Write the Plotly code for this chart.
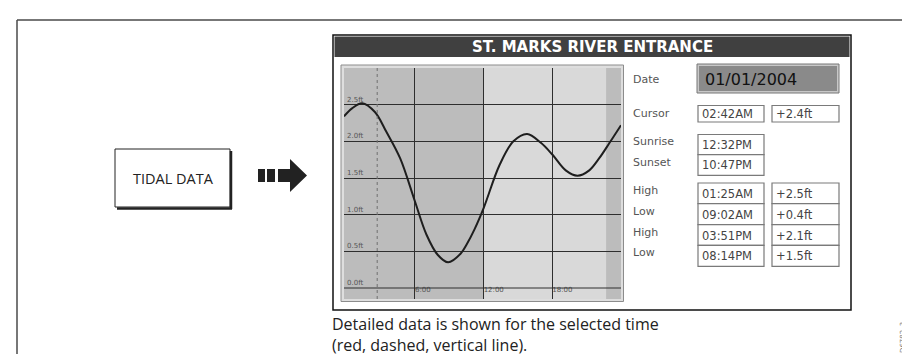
import plotly.graph_objects as go

W, H = 910, 354

# ---------------- data ----------------
title = "ST. MARKS RIVER ENTRANCE"
tide_hours = [-0.2, 0.5, 1.4, 2.5, 3.5, 4.7, 6.0, 7.0, 8.0, 8.9, 10.0, 10.5, 11.2, 12.0,
              13.4, 14.6, 15.8, 17.0, 18.0, 19.2, 20.2, 21.2, 22.1, 23.0, 24.0]
tide_ft = [2.34, 2.45, 2.52, 2.40, 2.13, 1.77, 1.18, 0.73, 0.45, 0.35, 0.47, 0.59, 0.80, 1.09,
           1.68, 2.00, 2.10, 1.98, 1.82, 1.60, 1.53, 1.60, 1.77, 1.98, 2.22]
x_tick_vals = [6, 12, 18]
x_tick_text = ["6:00", "12:00", "18:00"]
y_tick_vals = [0.0, 0.5, 1.0, 1.5, 2.0, 2.5]
y_tick_text = ["0.0ft", "0.5ft", "1.0ft", "1.5ft", "2.0ft", "2.5ft"]
cursor_hour = 2.7          # 02:42AM
light_start_hour = 12.05   # shaded band boundaries as drawn
light_end_hour = 22.7
date_text = "01/01/2004"
cursor_row = ("Cursor", "02:42AM", "+2.4ft")
sun_rows = [("Sunrise", "12:32PM"), ("Sunset", "10:47PM")]
tide_rows = [("High", "01:25AM", "+2.5ft"), ("Low", "09:02AM", "+0.4ft"),
             ("High", "03:51PM", "+2.1ft"), ("Low", "08:14PM", "+1.5ft")]
button_text = "TIDAL DATA"
caption_lines = ["Detailed data is shown for the selected time",
                 "(red, dashed, vertical line)."]
figure_code = "D6782_3"

X_MIN, X_MAX = -0.2, 24.0
Y_MIN, Y_MAX = -0.15, 3.0


def px(x):
    return x / W


def py(y):
    return 1 - y / H


fig = go.Figure()

fig.add_trace(go.Scatter(x=tide_hours, y=tide_ft, mode="lines",
                         line=dict(color="#1e1e1e", width=2, shape="spline", smoothing=1.0),
                         hoverinfo="skip", showlegend=False, cliponaxis=True))

shapes = []
ann = []

# outer page lines
shapes.append(dict(type="line", xref="paper", yref="paper", x0=px(9), x1=px(910), y0=py(12), y1=py(12),
                   line=dict(color="#4a4a4a", width=1.5)))
shapes.append(dict(type="line", xref="paper", yref="paper", x0=px(9), x1=px(9), y0=py(12), y1=py(354),
                   line=dict(color="#4a4a4a", width=1.5)))

# TIDAL DATA button with shadow
shapes.append(dict(type="rect", xref="paper", yref="paper", x0=px(107), x1=px(222), y0=py(199), y1=py(141),
                   line=dict(color="#222", width=1), fillcolor="white"))
shapes.append(dict(type="line", xref="paper", yref="paper", x0=px(223), x1=px(223), y0=py(143), y1=py(201),
                   line=dict(color="#222", width=2.5)))
shapes.append(dict(type="line", xref="paper", yref="paper", x0=px(109), x1=px(224), y0=py(200.5), y1=py(200.5),
                   line=dict(color="#222", width=2.5)))
ann.append(dict(text=button_text, xref="paper", yref="paper", x=px(165), y=py(170), showarrow=False,
                font=dict(family="Open Sans", size=14.5, color="#222"), xanchor="center", yanchor="middle"))

# arrow
shapes.append(dict(type="rect", xref="paper", yref="paper", x0=px(250), x1=px(257), y0=py(174), y1=py(161),
                   line=dict(width=0), fillcolor="#222"))
shapes.append(dict(type="rect", xref="paper", yref="paper", x0=px(259), x1=px(267), y0=py(174), y1=py(161),
                   line=dict(width=0), fillcolor="#222"))
arrow_pts = [(270, 161), (282, 161), (282, 151), (299, 167.5), (282, 184), (282, 174), (270, 174)]
path = "M " + " L ".join(f"{px(a):.5f},{py(b):.5f}" for a, b in arrow_pts) + " Z"
shapes.append(dict(type="path", xref="paper", yref="paper", path=path, line=dict(width=0), fillcolor="#222"))

# screen panel
shapes.append(dict(type="rect", xref="paper", yref="paper", x0=px(325), x1=px(843), y0=py(302), y1=py(27),
                   line=dict(color="#111", width=1.5), fillcolor="white", layer="below"))
shapes.append(dict(type="rect", xref="paper", yref="paper", x0=px(326.5), x1=px(841.5), y0=py(49), y1=py(28.5),
                   line=dict(width=0), fillcolor="#404040", layer="below"))
ann.append(dict(text="<b>" + title + "</b>", xref="paper", yref="paper", x=px(584), y=py(39), showarrow=False,
                font=dict(family="DejaVu Sans", size=15, color="white"), xanchor="center", yanchor="middle"))

# chart frame
shapes.append(dict(type="rect", xref="paper", yref="paper", x0=px(333), x1=px(615.5), y0=py(293.5), y1=py(57),
                   line=dict(color="#8c8c8c", width=1), fillcolor="#dedede", layer="below"))

# day/night shading in data coords
shapes.append(dict(type="rect", xref="x", yref="y", x0=X_MIN, x1=light_start_hour, y0=Y_MIN, y1=Y_MAX,
                   line=dict(width=0), fillcolor="#bcbcbc", layer="below"))
shapes.append(dict(type="rect", xref="x", yref="y", x0=light_start_hour, x1=light_end_hour, y0=Y_MIN, y1=Y_MAX,
                   line=dict(width=0), fillcolor="#d9d9d9", layer="below"))
shapes.append(dict(type="rect", xref="x", yref="y", x0=light_end_hour, x1=X_MAX, y0=Y_MIN, y1=Y_MAX,
                   line=dict(width=0), fillcolor="#bcbcbc", layer="below"))
# zero grid line
shapes.append(dict(type="line", xref="x", yref="y", x0=X_MIN, x1=X_MAX, y0=y_tick_vals[0], y1=y_tick_vals[0],
                   line=dict(color="#2e2e2e", width=1)))
shapes.append(dict(type="line", xref="x", yref="y", x0=cursor_hour, x1=cursor_hour, y0=Y_MIN, y1=Y_MAX,
                   line=dict(color="#707070", width=1, dash="3px,3px")))

# y tick labels drawn just above each grid line
for v, t in zip(y_tick_vals, y_tick_text):
    ann.append(dict(text=t, xref="x", yref="y", x=X_MIN, y=v, showarrow=False, xanchor="left",
                    yanchor="bottom", xshift=1, yshift=-1,
                    font=dict(family="DejaVu Sans", size=7, color="#555")))

# right info panel
lab_font = dict(family="DejaVu Sans", size=11, color="#555")
val_font = dict(family="DejaVu Sans", size=11.5, color="#444")
ann.append(dict(text="Date", xref="paper", yref="paper", x=px(623), y=py(71), showarrow=False,
                font=lab_font, xanchor="left", yanchor="middle"))
shapes.append(dict(type="rect", xref="paper", yref="paper", x0=px(690), x1=px(830), y0=py(84), y1=py(57),
                   line=dict(color="#c8c8c8", width=2), fillcolor="#8a8a8a"))
shapes.append(dict(type="rect", xref="paper", yref="paper", x0=px(689), x1=px(831), y0=py(85), y1=py(56),
                   line=dict(color="#777", width=1), fillcolor="rgba(0,0,0,0)"))
ann.append(dict(text=date_text, xref="paper", yref="paper", x=px(695), y=py(71), showarrow=False,
                font=dict(family="DejaVu Sans", size=16, color="#111"), xanchor="left", yanchor="middle"))


def box(x0, x1, y0, y1, text):
    shapes.append(dict(type="rect", xref="paper", yref="paper", x0=px(x0), x1=px(x1), y0=py(y1), y1=py(y0),
                       line=dict(color="#7a7a7a", width=1.2), fillcolor="white"))
    ann.append(dict(text=text, xref="paper", yref="paper", x=px(x0 + 2), y=py((y0 + y1) / 2 + 0.5),
                    showarrow=False, font=val_font, xanchor="left", yanchor="middle"))


# cursor row
ann.append(dict(text=cursor_row[0], xref="paper", yref="paper", x=px(623), y=py(105), showarrow=False,
                font=lab_font, xanchor="left", yanchor="middle"))
box(690, 756, 97.5, 114, cursor_row[1])
box(764, 831, 97.5, 114, cursor_row[2])

# sun rows
sun_y = [(126.5, 146.7), (146.7, 167.3)]
for (lab, val), (a, b) in zip(sun_rows, sun_y):
    ann.append(dict(text=lab, xref="paper", yref="paper", x=px(623), y=py((a + b) / 2 - 3), showarrow=False,
                    font=lab_font, xanchor="left", yanchor="middle"))
    box(690, 756, a, b, val)

# tide rows
tide_y = [(175, 195.7), (195.7, 216.7), (216.7, 237.3), (237.3, 258.3)]
for (lab, t, h), (a, b) in zip(tide_rows, tide_y):
    ann.append(dict(text=lab, xref="paper", yref="paper", x=px(623), y=py((a + b) / 2 - 3), showarrow=False,
                    font=lab_font, xanchor="left", yanchor="middle"))
    box(690, 756, a, b, t)
    box(764, 831, a, b, h)

# caption (one two-line text block)
ann.append(dict(text="<br>".join(caption_lines), xref="paper", yref="paper", x=px(323), y=py(326),
                showarrow=False, align="left", borderpad=0,
                font=dict(family="Open Sans", size=16, color="#222"), xanchor="left", yanchor="middle"))

ann.append(dict(text=figure_code, xref="paper", yref="paper", x=px(895), y=py(330), showarrow=False,
                textangle=-90, borderpad=0, font=dict(family="DejaVu Sans", size=7, color="#777"),
                xanchor="center", yanchor="middle"))

fig.update_layout(
    width=W, height=H, autosize=False,
    margin=dict(l=0, r=0, t=0, b=0, pad=0),
    paper_bgcolor="white", plot_bgcolor="rgba(0,0,0,0)",
    shapes=shapes, annotations=ann, showlegend=False,
    xaxis=dict(domain=[px(336), px(613)], range=[X_MIN, X_MAX], tickvals=x_tick_vals, ticktext=x_tick_text,
               ticklabelposition="inside right", ticks="", showgrid=True, gridcolor="#2e2e2e", gridwidth=1,
               zeroline=False, showline=False, fixedrange=True,
               tickfont=dict(family="DejaVu Sans", size=7, color="#555")),
    yaxis=dict(domain=[py(291), py(60)], range=[Y_MIN, Y_MAX], tickvals=y_tick_vals,
               showticklabels=False, ticks="", showgrid=True, gridcolor="#2e2e2e", gridwidth=1,
               zeroline=False, showline=False, fixedrange=True),
)

fig.write_html("out.html", include_plotlyjs=True, config={"displayModeBar": False})
